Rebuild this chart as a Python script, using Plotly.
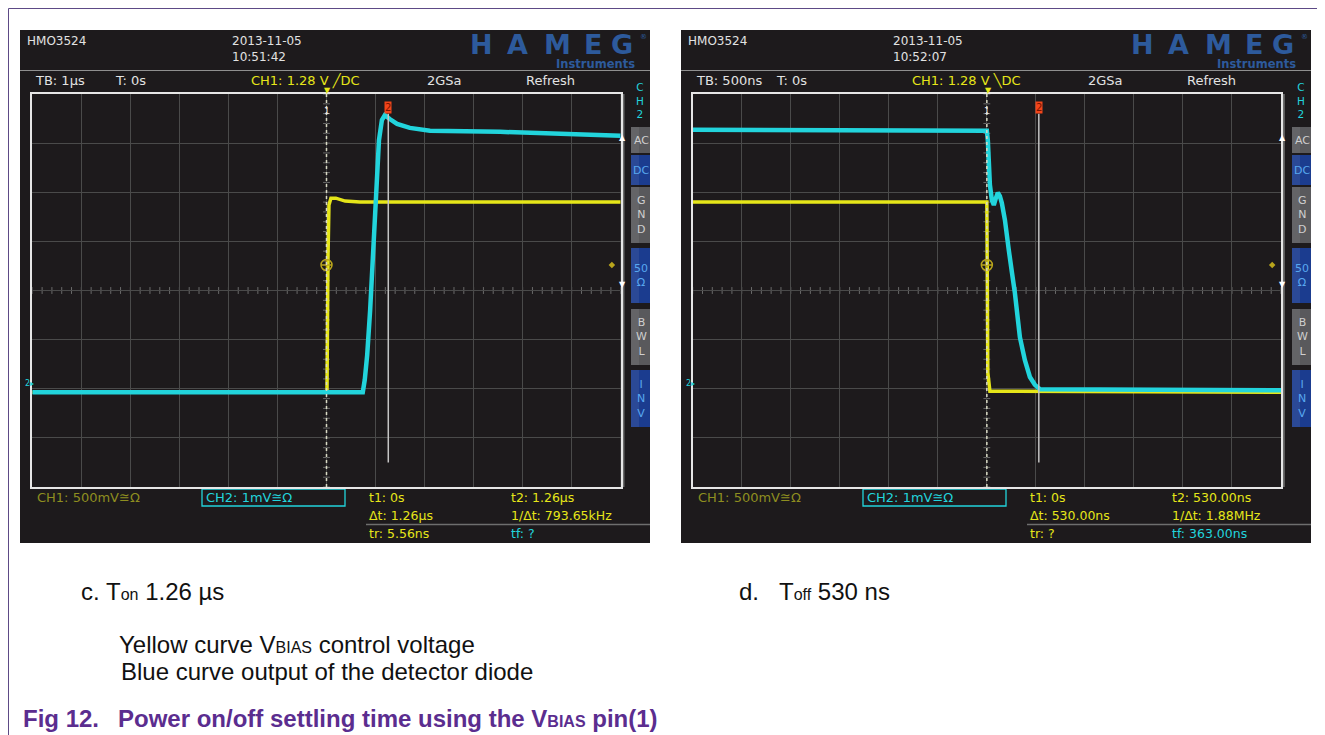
import plotly.graph_objects as go

# page body has an 8px margin, so the figure is drawn 8px in from the top-left corner
OFF = 8
W, H = 1325 - OFF, 735 - OFF

# ---------------- data (time, level in screen divisions) ----------------
# Left screenshot: TB 1 us/div, time in microseconds
on_t_ch1 = [-6.0, 0.01, 0.03, 0.05, 0.09, 0.19, 0.38, 0.68, 6.0]
on_ch1 = [-2.07, -2.07, 0.62, 1.74, 1.88, 1.88, 1.82, 1.80, 1.80]
on_t_ch2 = [-6.0, 0.74, 0.78, 0.83, 0.89, 0.95, 1.01, 1.07, 1.13, 1.19, 1.29,
            1.44, 1.70, 2.11, 3.54, 4.76, 6.0]
on_ch2 = [-2.07, -2.07, -1.82, -1.31, -0.40, 0.82, 2.15, 3.06, 3.47, 3.57, 3.49,
          3.39, 3.31, 3.25, 3.23, 3.19, 3.15]
# Right screenshot: TB 500 ns/div, time in nanoseconds
off_t_ch1 = [-3000, 0, 10, 31, 3000]
off_ch1 = [1.80, 1.80, -1.67, -2.05, -2.07]
off_t_ch2 = [-3000, 0, 10, 20, 31, 51, 71, 92, 112, 133, 153, 184, 204, 224, 255,
             286, 337, 388, 439, 490, 541, 3000]
off_ch2 = [3.27, 3.25, 3.06, 2.56, 2.15, 1.84, 1.74, 1.88, 1.99, 1.92, 1.78, 1.44,
           1.19, 0.82, 0.38, -0.05, -0.95, -1.42, -1.76, -1.92, -2.01, -2.03]

cursor2 = [1.26, 530]            # cursor t2 positions (us, ns)
trig_level = [0.52, 0.52]        # trigger level, divisions
x_half = [6.0, 3000]             # half screen width in time units
x_div = [1.0, 500]               # time per division

models = ["HMO3524", "HMO3524"]
dates = ["2013-11-05", "2013-11-05"]
times = ["10:51:42", "10:52:07"]
tb_txt = ["TB: 1µs", "TB: 500ns"]
trig_txt = ["CH1: 1.28 V ╱DC", "CH1: 1.28 V ╲DC"]
t1_txt = ["t1: 0s", "t1: 0s"]
t2_txt = ["t2: 1.26µs", "t2: 530.00ns"]
dt_txt = ["Δt: 1.26µs", "Δt: 530.00ns"]
inv_txt = ["1/Δt: 793.65kHz", "1/Δt: 1.88MHz"]
tr_txt = ["tr: 5.56ns", "tr: ?"]
tf_txt = ["tf: ?", "tf: 363.00ns"]
buttons = [("AC", 127, 153, False), ("DC", 155, 185, True), ("G<br>N<br>D", 187, 243, False),
           ("50<br>Ω", 248, 303, True), ("B<br>W<br>L", 309, 365, False), ("I<br>N<br>V", 370, 427, True)]

YEL = "#e6e619"
CYA = "#22d4dc"
SCREEN_BG = "#1d1a1c"
FONT = "DejaVu Sans"


def px(x):
    return (x - OFF) / W


def py(y):
    return 1 - (y - OFF) / H


fig = go.Figure()
shapes = []
ann = []


def T(x, y, s, color, size=12, xa="left", ya="middle", family=FONT, **kw):
    ann.append(dict(x=px(x), y=py(y), xref="paper", yref="paper", text=s, showarrow=False,
                    xanchor=xa, yanchor=ya, font=dict(color=color, size=size, family=family), **kw))


def R(x0, y0, x1, y1, fill=None, line=None, lw=1):
    shapes.append(dict(type="rect", xref="paper", yref="paper", x0=px(x0), x1=px(x1),
                       y0=py(y1), y1=py(y0), fillcolor=fill or "rgba(0,0,0,0)",
                       line=dict(color=line or "rgba(0,0,0,0)", width=lw if line else 0), layer="below"))


def L(x0, y0, x1, y1, color, w=1, layer="above"):
    shapes.append(dict(type="line", xref="paper", yref="paper", x0=px(x0), x1=px(x1),
                       y0=py(y0), y1=py(y1), line=dict(color=color, width=w), layer=layer))


# outer page frame lines
L(8.5, 8.5, 1325, 8.5, "#5d4a86", 1)
L(8.5, 8.5, 8.5, 735, "#5d4a86", 1)

grid_left = [32.3, 692.7]
grid_right = [620.7, 1281.0]
grid_top, grid_bot = 94, 487

series = [(on_t_ch1, on_ch1, on_t_ch2, on_ch2), (off_t_ch1, off_ch1, off_t_ch2, off_ch2)]

for p in range(2):
    sx = 0 if p == 0 else 661
    xa = "x" if p == 0 else "x2"
    ya = "y" if p == 0 else "y2"
    # screen background
    R(20 + sx, 30, 650 + sx, 543, fill=SCREEN_BG)
    L(20 + sx, 70.5, 650 + sx, 70.5, "#8f8f8f", 1)
    # header
    T(25 + sx, 41, models[p], "#e2e2e2", 12)
    T(230 + sx, 41, dates[p], "#e2e2e2", 12)
    T(230 + sx, 57, times[p], "#e2e2e2", 12)
    # HAMEG logo
    for ch, cx in zip("HAMEG", [481, 517, 557, 593, 622]):
        T(cx + sx, 45, "<b>" + ch + "</b>", "#2d5a9c", 27, xa="center", ya="middle")
    T(643 + sx, 37, "®", "#2d5a9c", 7, xa="center")
    T(637 + sx, 55, "<b>Instruments</b>", "#2d5a9c", 11.5, xa="right", ya="top")
    # status row
    T(33 + sx, 81, tb_txt[p], "#e2e2e2", 13)
    T(113 + sx, 81, "T: 0s", "#e2e2e2", 13)
    T(249 + sx, 81, trig_txt[p], YEL, 13)
    T(425 + sx, 81, "2GSa", "#e2e2e2", 13)
    T(524 + sx, 81, "Refresh", "#e2e2e2", 13)
    T(327 + sx, 90, "▼", YEL, 8, xa="center")
    # right-hand strip and buttons
    R(grid_right[p], grid_top, grid_right[p] + 3.8, grid_bot, fill="#6b6b6b")
    T(grid_right[p] + 1.9, 138, "▲", "#ffffff", 8, xa="center")
    T(grid_right[p] + 1.9, 284, "▼", "#ffffff", 8, xa="center")
    T(640 + sx, 100, "C<br>H<br>2", CYA, 10.5, xa="center")
    for lab, y0, y1, blue in buttons:
        R(631 + sx, y0, 650 + sx, y1, fill="#1b3c8f" if blue else "#59595c")
        R(631 + sx, y0, 639 + sx, y1, fill="rgba(255,255,255,0.07)")
        T(641 + sx, (y0 + y1) / 2, lab, "#58a8f0" if blue else "#cfcfcf", 11, xa="center")
    # bottom readouts
    T(35 + sx, 497, "CH1: 500mV≅Ω", "#8e8e20", 13)
    R(202 + sx, 489, 345 + sx, 506, line=CYA, lw=1.3)
    T(204 + sx, 497, "CH2: 1mV≅Ω", CYA, 13)
    T(367 + sx, 497, t1_txt[p], YEL, 12.5)
    T(509 + sx, 497, t2_txt[p], YEL, 12.5)
    T(367 + sx, 515, dt_txt[p], YEL, 12.5)
    T(509 + sx, 515, inv_txt[p], YEL, 12.5)
    L(366 + sx, 524.5, 650 + sx, 524.5, "#6e6e6e", 1.5)
    T(367 + sx, 533, tr_txt[p], YEL, 12.5)
    T(509 + sx, 533, tf_txt[p], CYA, 12.5)
    # CH2 ground marker
    T(grid_left[p] - 9, 383, "2▸", CYA, 8)

    # center cross minor ticks (every 1/5 division)
    u = x_div[p]
    for k in range(-30, 31):
        shapes.append(dict(type="line", xref=xa, yref=ya, x0=k * 0.2 * u, x1=k * 0.2 * u,
                           y0=-0.07, y1=0.07, line=dict(color="#6a6a6a", width=1), layer="below"))
    for k in range(-20, 21):
        shapes.append(dict(type="line", xref=xa, yref=ya, x0=-0.07 * u, x1=0.07 * u,
                           y0=k * 0.2, y1=k * 0.2, line=dict(color="#6a6a6a", width=1), layer="below"))
    # trigger (t1) dashed line
    shapes.append(dict(type="line", xref=xa, yref=ya, x0=0, x1=0, y0=-4, y1=4,
                       line=dict(color="#d9d9c4", width=1.5, dash="3px,3px")))
    # cursor t2
    shapes.append(dict(type="line", xref=xa, yref=ya, x0=cursor2[p], x1=cursor2[p], y0=-3.5, y1=3.6,
                       line=dict(color="#c4c4c4", width=1.5)))
    ann.append(dict(x=cursor2[p], y=3.72, xref=xa, yref=ya, text="2", showarrow=False,
                    font=dict(color="#7a1200", size=10, family=FONT), bgcolor="#f2451a", borderpad=0))
    ann.append(dict(x=0, y=3.66, xref=xa, yref=ya, text="1", showarrow=False,
                    font=dict(color="#e8e8e8", size=9, family=FONT)))

    t1, v1, t2, v2 = series[p]
    fig.add_trace(go.Scatter(x=t1, y=v1, mode="lines", line=dict(color=YEL, width=3.5),
                             xaxis=xa, yaxis=ya, showlegend=False, hoverinfo="skip"))
    fig.add_trace(go.Scatter(x=t2, y=v2, mode="lines", line=dict(color=CYA, width=4.5),
                             xaxis=xa, yaxis=ya, showlegend=False, hoverinfo="skip"))
    fig.add_trace(go.Scatter(x=[0], y=[trig_level[p]], mode="markers",
                             marker=dict(symbol="circle-cross-open", size=11,
                                         line=dict(color="#b9a51c", width=1.5), color="#b9a51c"),
                             xaxis=xa, yaxis=ya, showlegend=False, hoverinfo="skip"))
    fig.add_trace(go.Scatter(x=[0.97 * x_half[p]], y=[trig_level[p]], mode="markers",
                             marker=dict(symbol="diamond", size=5, color="#b9a51c"),
                             xaxis=xa, yaxis=ya, showlegend=False, hoverinfo="skip"))

ax_common = dict(showgrid=True, gridcolor="#4a4a4a", gridwidth=1, zeroline=False, showticklabels=False,
                 ticks="", showline=True, linecolor="#e6e6e6", linewidth=1.5, mirror=True, fixedrange=True)

fig.update_layout(
    width=W, height=H, margin=dict(l=0, r=0, t=0, b=0),
    paper_bgcolor="white", plot_bgcolor="black", showlegend=False,
    xaxis=dict(domain=[px(grid_left[0]), px(grid_right[0])], range=[-6, 6], dtick=1, tick0=0,
               anchor="y", **ax_common),
    yaxis=dict(domain=[py(grid_bot), py(grid_top)], range=[-4, 4], dtick=1, tick0=0,
               anchor="x", **ax_common),
    xaxis2=dict(domain=[px(grid_left[1]), px(grid_right[1])], range=[-3000, 3000], dtick=500, tick0=0,
                anchor="y2", **ax_common),
    yaxis2=dict(domain=[py(grid_bot), py(grid_top)], range=[-4, 4], dtick=1, tick0=0,
                anchor="x2", **ax_common),
)

# caption texts
CAP = "Liberation Sans"
CS = 24
T(79, 591, "c.", "#111111", CS, family=CAP)
T(104, 591, "T<span style='font-size:16px'>on</span> 1.26 µs", "#111111", CS, family=CAP)
T(737, 591, "d.", "#111111", CS, family=CAP)
T(777, 591, "T<span style='font-size:16px'>off</span> 530 ns", "#111111", CS, family=CAP)
T(117, 644, "Yellow curve V<span style='font-size:16px'>BIAS</span> control voltage", "#111111", CS, family=CAP)
T(119, 671, "Blue curve output of the detector diode", "#111111", CS, family=CAP)
T(21, 718, "<b>Fig 12.</b>", "#5b2d8f", CS, family=CAP)
T(116, 718, "<b>Power on/off settling time using the V<span style='font-size:16px'>BIAS</span> pin(1)</b>",
  "#5b2d8f", CS, family=CAP)

fig.update_layout(shapes=shapes, annotations=ann)
fig.write_html("out.html")
